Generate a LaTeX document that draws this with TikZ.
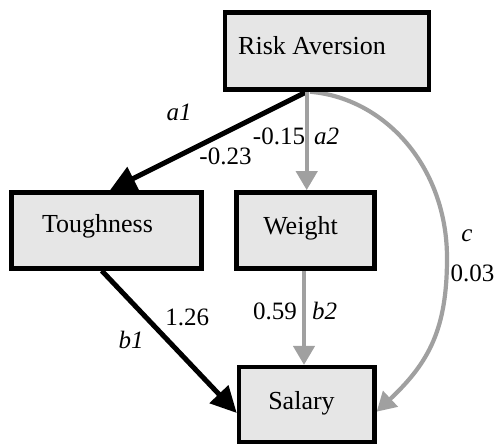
\documentclass[tikz,border=0pt]{standalone}
\usepackage{fontspec}
\setmainfont{Liberation Serif}
\newfontfamily\diagserif{Liberation Serif}
\usetikzlibrary{arrows.meta,backgrounds}
\definecolor{boxfill}{HTML}{E6E6E6}
\definecolor{edgegray}{HTML}{A0A0A0}
\begin{document}
\begin{tikzpicture}[x=1pt,y=1pt,
  box/.style={draw=black, line width=4.5pt, fill=boxfill, rectangle, inner sep=0pt},
  nodetext/.style={font=\diagserif\fontsize{26}{30}\selectfont, anchor=base, inner sep=0pt},
  lab/.style={font=\diagserif\fontsize{25}{29}\selectfont, anchor=base, inner sep=0pt},
  ilab/.style={anchor=base, inner sep=0pt, font=\diagserif\fontsize{25}{29}\selectfont\itshape},
  strong/.style={draw=black, line width=5pt, -{Triangle[length=26pt,width=25pt]}},
  weak/.style={draw=edgegray, line width=4.2pt, -{Triangle[length=19pt,width=21pt]}},
]
\useasboundingbox (0,0) rectangle (498,446);

% boxes
\node[box, minimum width=204pt, minimum height=77pt] (ra) at (327,395) {};
\node[box, minimum width=190pt, minimum height=76pt] (tough) at (106.7,215.6) {};
\node[box, minimum width=138.4pt, minimum height=76pt] (weight) at (305.5,215.6) {};
\node[box, minimum width=135.4pt, minimum height=75pt] (salary) at (306.7,41.3) {};

% box texts
\node[nodetext] (ra-t) at (312,391.7) {Risk Aversion};
\node[nodetext] (tough-t) at (97.5,213) {Toughness};
\node[nodetext] (weight-t) at (300.5,211) {Weight};
\node[nodetext] (salary-t) at (301.5,36) {Salary};

% connectors
\begin{scope}[on background layer]
\draw[strong] ([xshift=-20.3pt]ra.south) -- ([xshift=3.3pt]tough.north);
\draw[weak] ([xshift=-20.3pt]ra.south) -- ([xshift=1.2pt]weight.north);
\draw[weak] ([xshift=-17pt]ra.south) .. controls (385,348) and (447,279) .. (447,188)
            .. controls (447,118) and (429.7,84) .. ([yshift=-7pt]salary.east);
\draw[strong] ([xshift=-5pt]tough.south) -- ([yshift=-8.3pt]salary.west);
\draw[weak] ([xshift=-1.5pt]weight.south) -- ([xshift=-2.7pt]salary.north);
\end{scope}

% edge labels
\node[ilab] (l-a1) at (179,325) {a1};
\node[lab] (l-a1v) at (225.5,281) {-0.23};
\node[lab] (l-a2v) at (279,301) {-0.15};
\node[ilab] (l-a2) at (326.5,301) {a2};
\node[ilab] (l-c) at (467,204.3) {c};
\node[lab] (l-cv) at (472.5,164.3) {0.03};
\node[lab] (l-b1v) at (187.3,120.3) {1.26};
\node[ilab] (l-b1) at (131,97) {b1};
\node[lab] (l-b2v) at (275,126) {0.59};
\node[ilab] (l-b2) at (324.5,126) {b2};
\end{tikzpicture}
\end{document}
